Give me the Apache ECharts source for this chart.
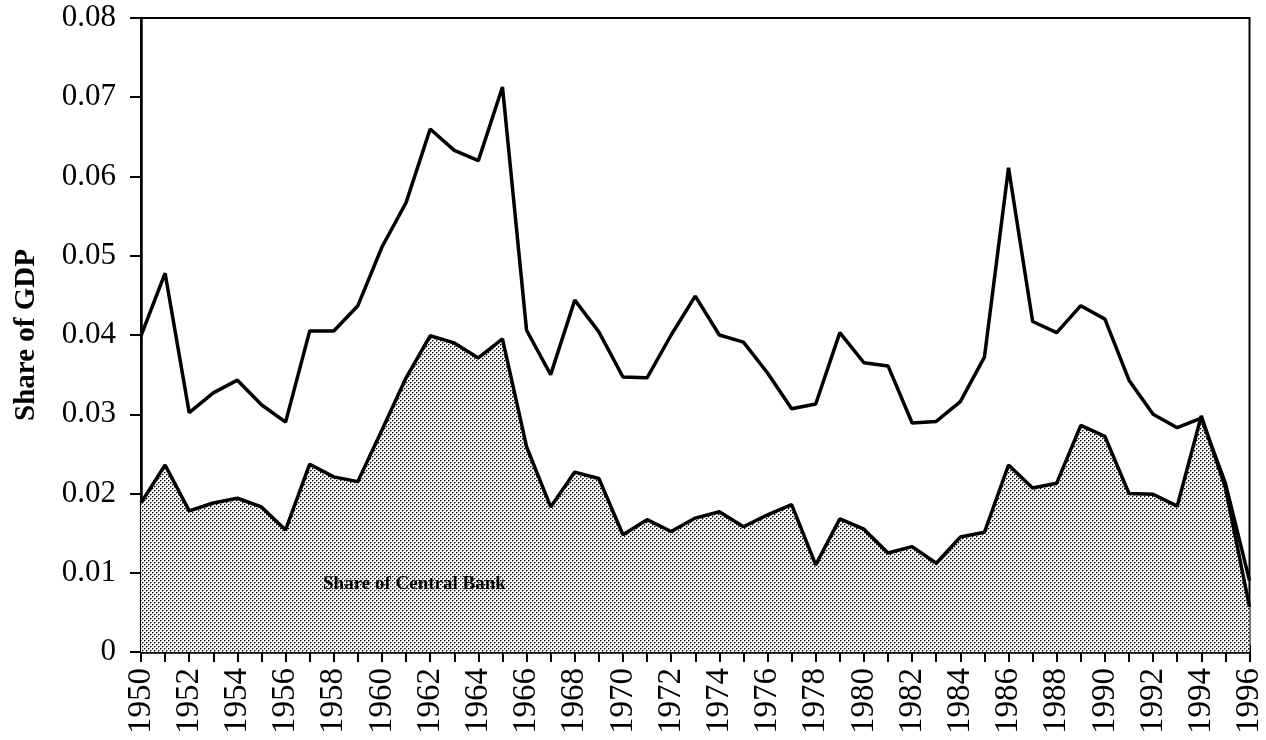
<!DOCTYPE html>
<html>
<head>
<meta charset="utf-8">
<script src="https://cdn.jsdelivr.net/npm/echarts@6/dist/echarts.min.js"></script>
<style>
  html, body { margin: 0; padding: 0; background: #fff; }
  #chart { width: 1266px; height: 740px; }
</style>
</head>
<body>
<div id="chart"></div>
<script>
// years on the x axis
var years = [];
for (var y = 1950; y <= 1996; y++) years.push(String(y));

// total, share of GDP (upper line)
var totalShare = [
  0.0399, 0.0478, 0.0302, 0.0327, 0.0343, 0.0312, 0.0290, 0.0405, 0.0405, 0.0437,
  0.0511, 0.0567, 0.0660, 0.0633, 0.0620, 0.0713, 0.0406, 0.0350, 0.0444, 0.0404,
  0.0347, 0.0346, 0.0400, 0.0449, 0.0400, 0.0391, 0.0352, 0.0307, 0.0313, 0.0403,
  0.0365, 0.0361, 0.0289, 0.0291, 0.0316, 0.0372, 0.0611, 0.0417, 0.0403, 0.0437,
  0.0420, 0.0343, 0.0300, 0.0283, 0.0295, 0.0213, 0.0090
];

// share of central bank (shaded area)
var centralBank = [
  0.0188, 0.0236, 0.0178, 0.0188, 0.0194, 0.0183, 0.0154, 0.0237, 0.0221, 0.0215,
  0.0280, 0.0346, 0.0399, 0.0390, 0.0371, 0.0395, 0.0259, 0.0183, 0.0227, 0.0219,
  0.0148, 0.0167, 0.0152, 0.0169, 0.0177, 0.0158, 0.0173, 0.0186, 0.0110, 0.0168,
  0.0155, 0.0125, 0.0133, 0.0112, 0.0145, 0.0151, 0.0236, 0.0207, 0.0213, 0.0286,
  0.0272, 0.0200, 0.0199, 0.0184, 0.0298, 0.0207, 0.0057
];

// staggered dot screen for the shaded area
function dotPattern() {
  var c = document.createElement('canvas');
  c.width = 4; c.height = 4;
  var ctx = c.getContext('2d');
  ctx.fillStyle = '#ffffff';
  ctx.fillRect(0, 0, 4, 4);
  ctx.fillStyle = '#000000';
  ctx.fillRect(0, 0, 1, 1);
  ctx.fillRect(2, 2, 1, 1);
  ctx.fillStyle = '#888888';
  ctx.fillRect(1, 0, 1, 1);
  ctx.fillRect(0, 1, 1, 1);
  ctx.fillRect(3, 2, 1, 1);
  ctx.fillRect(2, 3, 1, 1);
  return c;
}

var serif = '"Liberation Serif", "Times New Roman", serif';

var myChart = echarts.init(document.getElementById('chart'));
var option = {
  animation: false,
  backgroundColor: '#fff',
  grid: {
    left: 141, right: 15, top: 18, bottom: 88,
    show: true, borderColor: '#000', borderWidth: 2
  },
  xAxis: [
    {
      type: 'category',
      data: years,
      boundaryGap: false,
      axisLine: { lineStyle: { color: '#000', width: 2.5 } },
      axisTick: { show: true, interval: 0, length: 10, lineStyle: { color: '#000', width: 2 } },
      axisLabel: {
        interval: 1, rotate: 90, margin: 16,
        color: '#000', fontFamily: serif, fontSize: 33
      },
      splitLine: { show: false }
    },
    {
      type: 'category',
      data: years,
      boundaryGap: false,
      position: 'bottom',
      axisLine: { show: false },
      axisTick: { show: true, inside: true, interval: 0, length: 7, lineStyle: { color: '#000', width: 2 } },
      axisLabel: { show: false },
      splitLine: { show: false }
    }
  ],
  yAxis: [
    {
      type: 'value',
      min: 0, max: 0.08, interval: 0.01,
      name: 'Share of GDP',
      nameLocation: 'middle',
      nameGap: 100,
      nameRotate: 90,
      nameTextStyle: { color: '#000', fontFamily: serif, fontWeight: 'bold', fontSize: 29 },
      axisLine: { show: true, lineStyle: { color: '#000', width: 2.5 } },
      axisTick: { show: true, length: 11, lineStyle: { color: '#000', width: 2 } },
      axisLabel: {
        margin: 25, color: '#000', fontFamily: serif, fontSize: 31,
        formatter: function (v) { return v === 0 ? '0' : v.toFixed(2); }
      },
      splitLine: { show: false }
    }
  ],
  series: [
    {
      name: 'Share of Central Bank',
      type: 'line',
      data: centralBank,
      symbol: 'none',
      lineStyle: { color: '#000', width: 3.5 },
      areaStyle: { color: { image: dotPattern(), repeat: 'repeat' }, opacity: 1 },
      z: 2
    },
    {
      name: 'Total',
      type: 'line',
      data: totalShare,
      symbol: 'none',
      lineStyle: { color: '#000', width: 3.5 },
      z: 3
    }
  ],
  graphic: [
    {
      type: 'text',
      left: 323, top: 575,
      style: {
        text: 'Share of Central Bank',
        fill: '#000',
        font: 'bold 19px ' + serif
      },
      z: 10
    }
  ]
};
myChart.setOption(option);
</script>
</body>
</html>
